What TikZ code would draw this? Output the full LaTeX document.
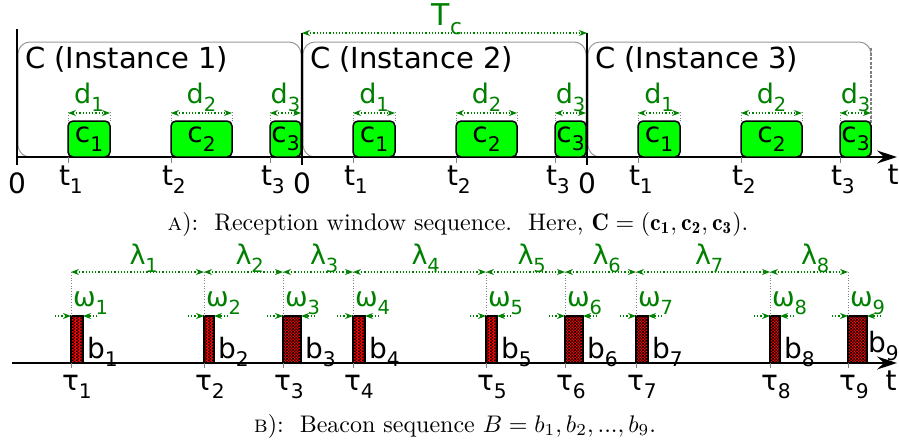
\documentclass[tikz,border=0pt]{standalone}
\usepackage{fontspec}
\usepackage{graphicx}
\newfontfamily\dv{DejaVu Sans}
\usetikzlibrary{arrows.meta,patterns}
\definecolor{lblgreen}{RGB}{0,128,0}
\definecolor{boxgreen}{RGB}{0,255,0}
\pgfdeclarepatternformonly{finecheck}{\pgfqpoint{0pt}{0pt}}{\pgfqpoint{3.4pt}{3.4pt}}{\pgfqpoint{3.4pt}{3.4pt}}{%
  \pgfpathrectangle{\pgfqpoint{0pt}{0pt}}{\pgfqpoint{1.7pt}{1.7pt}}%
  \pgfpathrectangle{\pgfqpoint{1.7pt}{1.7pt}}{\pgfqpoint{1.7pt}{1.7pt}}%
  \pgfusepath{fill}}
\newcommand\lo[1]{\raisebox{-0.3em}{\scalebox{0.72}{#1}}}
\newcommand\captext[1]{\scalebox{2.4}{\fontsize{10}{12}\selectfont #1}}
\begin{document}
\begin{tikzpicture}[x=1pt,y=-1pt,
  lbl/.style={font=\dv\fontsize{27}{27}\selectfont, text=lblgreen, inner sep=0pt, outer sep=0pt},
  blk/.style={font=\dv\fontsize{28}{28}\selectfont, inner sep=0pt, outer sep=0pt},
  instlbl/.style={font=\dv\fontsize{29}{29}\selectfont, inner sep=0pt, outer sep=0pt},
  cbox/.style={draw=black, fill=boxgreen, line width=1.5pt, rounded corners=5pt, minimum height=36pt, inner sep=0pt, outer sep=0pt, font=\dv\fontsize{28}{28}\selectfont},
  beacon/.style={draw=black, line width=1.2pt, preaction={fill=red}, pattern=finecheck, pattern color=black, minimum height=47pt, inner sep=0pt, outer sep=0pt},
  garrow/.style={draw=lblgreen, dotted, line width=1.2pt, {Stealth[length=8pt,width=6pt]}-{Stealth[length=8pt,width=6pt]}},
  gone/.style={draw=lblgreen, dotted, line width=1.2pt, -{Stealth[length=8pt,width=6pt]}},
  guide/.style={draw=gray, dotted, line width=0.7pt},
  tick/.style={draw=gray, line width=1pt},
  instbox/.style={draw=gray!80, line width=1pt, rounded corners=12pt},
  vline/.style={line width=2pt},
  axis/.style={line width=2pt, -{Stealth[length=20pt,width=13pt,inset=7pt]}},
  caption/.style={inner sep=0pt, outer sep=0pt}]
\useasboundingbox (0,0) rectangle (899,442);

% ---------- top panel ----------
\draw[instbox] (18,157) rectangle (301,42);
\draw[instbox] (303,157) rectangle (586,42);
\draw[instbox] (871,52) -- (871,42) -- (588,42) -- (588,157) -- (610,157);
\draw[gray, dash pattern=on 3pt off 1.5pt, line width=2pt] (871,48) -- (871,157);

\coordinate (ax0) at (17,157);
\coordinate (ax1) at (897,157);
\draw[axis] (ax0) -- (ax1);
\node[blk, anchor=base] (tA) at (893,184) {t};

\foreach \i/\X/\top in {1/17/29, 2/302/33, 3/587/33} {
  \coordinate (vt\i) at (\X,\top);
  \coordinate (vb\i) at (\X,165);
  \draw[vline] (vt\i) -- (vb\i);
  \node[blk, anchor=base] (z\i) at (\X,193) {0};
  \node[instlbl, anchor=base west] (inst\i) at (\X+8,68) {C (Instance \i)};
  \foreach \j/\a/\w in {1/51/42, 2/154/61, 3/253/31} {
    \node[cbox, minimum width=\w pt, anchor=south west] (c\i\j) at (\X+\a,157) {c\lo{\j}};
    \draw[guide] (c\i\j.north west) -- ([yshift=10pt]c\i\j.north west);
    \draw[guide] (c\i\j.north east) -- ([yshift=10pt]c\i\j.north east);
    \draw[garrow] ([yshift=8pt]c\i\j.north west) -- ([yshift=8pt]c\i\j.north east);
    \node[lbl, anchor=base] (d\i\j) at ([yshift=18pt]c\i\j.north) {d\lo{\j}};
    \draw[tick] (c\i\j.south west) -- ([yshift=-6pt]c\i\j.south west);
    \node[blk, anchor=base west] (t\i\j) at ([xshift=-9pt,yshift=-28pt]c\i\j.south west) {t\lo{\j}};
  }
}
\coordinate (tc1) at (302,33);
\coordinate (tc2) at (587,33);
\draw[garrow] (tc1) -- (tc2);
\node[lbl, font=\dv\fontsize{30}{30}\selectfont, anchor=base] (Tc) at (447,25) {T\lo{c}};

\node[caption, anchor=base] (capA) at (458,230) {\captext{\textsc{a}):\ \ Reception window sequence.\ \ Here, $\mathbf{C}=(\mathbf{c_1},\mathbf{c_2},\mathbf{c_3})$.}};

% ---------- bottom panel ----------
\coordinate (bx0) at (12,363);
\coordinate (bx1) at (897,363);
\draw[axis] (bx0) -- (bx1);
\node[blk, anchor=base] (tB) at (891,390) {t};

\foreach \i/\L/\W/\bs/\bx in {1/71/12/5/4, 2/204/10/5/4, 3/283/18/5/4, 4/353/12/5/4, 5/486/11/5/4, 6/565/18/5/4, 7/636/12/5/4, 8/770/10/5/4, 9/848/19/11/1} {
  \node[beacon, minimum width=\W pt, anchor=south west] (b\i) at (\L,363) {};
  \draw[guide] (b\i.north west) -- ([yshift=44pt]b\i.north west);
  \node[lbl, anchor=base west] (w\i) at ([xshift=2pt,yshift=10pt]b\i.north west) {ω\lo{\i}};
  \draw[gone] ([xshift=-16pt]b\i.north west) -- (b\i.north west);
  \draw[gone] ([xshift=14pt]b\i.north east) -- (b\i.north east);
  \node[blk, anchor=base west] (bl\i) at ([xshift=\bx pt,yshift=\bs pt]b\i.south east) {b\lo{\i}};
  \draw[tick] (b\i.south west) -- ([yshift=-5pt]b\i.south west);
  \node[blk, anchor=base west] (tau\i) at ([xshift=-9pt,yshift=-27pt]b\i.south west) {τ\lo{\i}};
}
\foreach \i/\j in {1/2,2/3,3/4,4/5,5/6,6/7,7/8,8/9} {
  \draw[garrow] ([yshift=44pt]b\i.north west) -- ([yshift=44pt]b\j.north west)
    node[midway, lbl, anchor=base west, xshift=-8pt, yshift=8pt] (lam\i) {λ\lo{\i}};
}

\node[caption, anchor=base] (capB) at (455,432) {\captext{\textsc{b}):\ \ Beacon sequence $B=b_1,b_2,...,b_9$.}};
\end{tikzpicture}
\end{document}
